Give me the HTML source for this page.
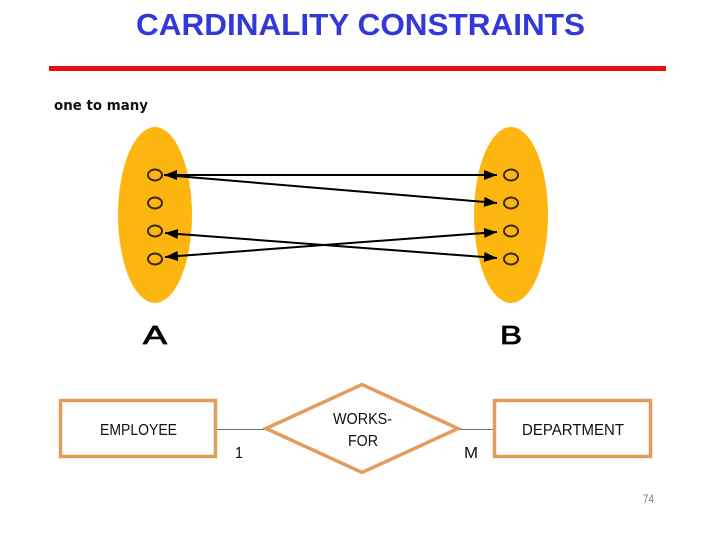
<!DOCTYPE html>
<html>
<head>
<meta charset="utf-8">
<style>
html,body{margin:0;padding:0;background:#fff;}
svg{display:block;}
text{font-family:"Liberation Sans",sans-serif;}
</style>
</head>
<body>
<svg width="720" height="540" viewBox="0 0 720 540" xmlns="http://www.w3.org/2000/svg">
<defs>
<marker id="ah" markerUnits="userSpaceOnUse" markerWidth="14" markerHeight="10" refX="13" refY="5" orient="auto-start-reverse">
<path d="M0,0 L13,5 L0,10 Z" fill="#000"/>
</marker>
</defs>
<rect width="720" height="540" fill="#fff"/>

<text x="136" y="35" font-size="30.5" font-weight="bold" fill="#3338d8" textLength="449" lengthAdjust="spacingAndGlyphs">CARDINALITY CONSTRAINTS</text>
<rect x="49" y="66" width="617" height="5" fill="#e80c0c"/>
<text x="54" y="110" font-size="14" font-weight="bold" fill="#111" style="font-family:'DejaVu Sans',sans-serif" textLength="94" lengthAdjust="spacingAndGlyphs">one to many</text>

<ellipse cx="155" cy="215" rx="37" ry="88" fill="#fdb60f"/>
<ellipse cx="511" cy="215" rx="37" ry="88" fill="#fdb60f"/>

<g fill="none" stroke="#3a2a08" stroke-width="2">
<ellipse cx="155" cy="175" rx="7" ry="5.5"/>
<ellipse cx="155" cy="203" rx="7" ry="5.5"/>
<ellipse cx="155" cy="231" rx="7" ry="5.5"/>
<ellipse cx="155" cy="259" rx="7" ry="5.5"/>
<ellipse cx="511" cy="175" rx="7" ry="5.5"/>
<ellipse cx="511" cy="203" rx="7" ry="5.5"/>
<ellipse cx="511" cy="231" rx="7" ry="5.5"/>
<ellipse cx="511" cy="259" rx="7" ry="5.5"/>
</g>

<g stroke="#000" stroke-width="2" fill="none">
<line x1="164" y1="175" x2="497" y2="175" marker-start="url(#ah)" marker-end="url(#ah)"/>
<line x1="164" y1="175" x2="497" y2="203" marker-end="url(#ah)"/>
<line x1="165" y1="233" x2="497" y2="258" marker-start="url(#ah)" marker-end="url(#ah)"/>
<line x1="165" y1="257" x2="497" y2="232" marker-start="url(#ah)" marker-end="url(#ah)"/>
</g>

<text x="143" y="344" font-size="26" fill="#000" stroke="#000" stroke-width="0.8" textLength="24" lengthAdjust="spacingAndGlyphs">A</text>
<text x="500" y="344" font-size="26" fill="#000" stroke="#000" stroke-width="0.8" textLength="22" lengthAdjust="spacingAndGlyphs">B</text>

<line x1="217" y1="429.5" x2="266" y2="429.5" stroke="#5a7a8a" stroke-width="1"/>
<line x1="458" y1="429.5" x2="493" y2="429.5" stroke="#5a7a8a" stroke-width="1"/>

<rect x="60.5" y="400.5" width="155" height="56" fill="none" stroke="#e29c5c" stroke-width="3.5"/>
<rect x="494.5" y="400.5" width="156" height="56" fill="none" stroke="#e29c5c" stroke-width="3.5"/>
<polygon points="266,428.5 362,384.5 458,428.5 362,472.5" fill="#fff" stroke="#e29c5c" stroke-width="3.5"/>

<g font-size="15.5" fill="#111">
<text x="100" y="435" textLength="77" lengthAdjust="spacingAndGlyphs">EMPLOYEE</text>
<text x="522" y="435" textLength="102" lengthAdjust="spacingAndGlyphs">DEPARTMENT</text>
<text x="333" y="424" textLength="59" lengthAdjust="spacingAndGlyphs">WORKS-</text>
<text x="348" y="446" textLength="30" lengthAdjust="spacingAndGlyphs">FOR</text>
<text x="235" y="458" textLength="8" lengthAdjust="spacingAndGlyphs">1</text>
<text x="464" y="458" textLength="14" lengthAdjust="spacingAndGlyphs">M</text>
</g>
<text x="643" y="503" font-size="12" fill="#808080" textLength="11" lengthAdjust="spacingAndGlyphs">74</text>
</svg>
</body>
</html>
